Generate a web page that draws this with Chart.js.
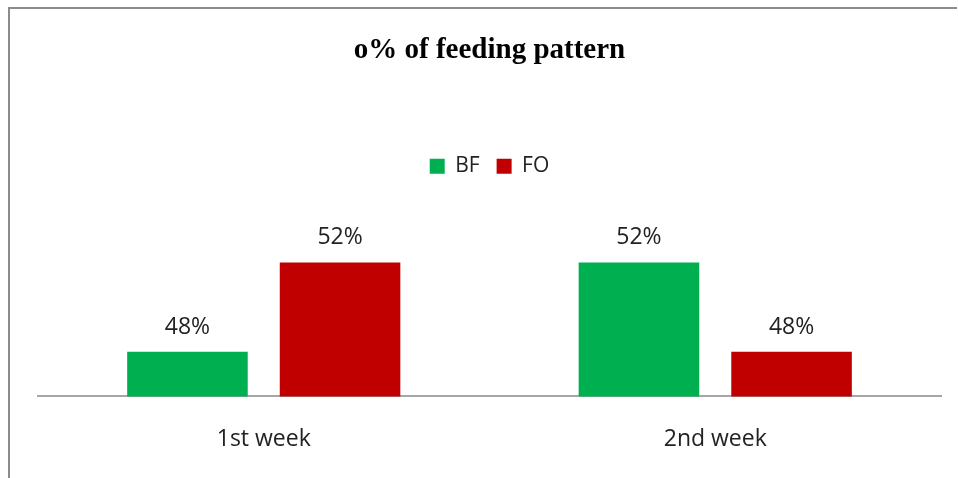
<!DOCTYPE html>
<html>
<head>
<meta charset="utf-8">
<script src="https://cdn.jsdelivr.net/npm/chart.js@4.4.0/dist/chart.umd.min.js"></script>
<style>
  html, body { margin: 0; padding: 0; background: #fff; }
  #frame {
    position: absolute; left: 8px; top: 7px; width: 949px; height: 471px;
    border-left: 2px solid #8c8c8c; border-top: 2px solid #8c8c8c;
    box-sizing: border-box;
  }
  #wrap { position: absolute; left: 0; top: 0; width: 958px; height: 478px; }
</style>
</head>
<body>
<div id="frame"></div>
<div id="wrap"><canvas id="feedingChart"></canvas></div>
<script>
  const weeks = ["1st week", "2nd week"];
  const bfValues = [48, 52];
  const foValues = [52, 48];

  // draws "48%" style labels above each bar
  const valueLabels = {
    id: "valueLabels",
    afterDatasetsDraw(chart) {
      const ctx = chart.ctx;
      ctx.save();
      ctx.font = "23px 'Open Sans', sans-serif";
      ctx.fillStyle = "#222";
      ctx.textAlign = "center";
      ctx.textBaseline = "alphabetic";
      chart.data.datasets.forEach((ds, i) => {
        chart.getDatasetMeta(i).data.forEach((bar, j) => {
          ctx.fillText(ds.data[j] + "%", bar.x, bar.y - 18);
        });
      });
      ctx.restore();
    },
  };

  // extra room between legend and bars
  const legendGap = {
    id: "legendGap",
    beforeInit(chart) {
      const fit = chart.legend.fit;
      chart.legend.fit = function () {
        fit.bind(chart.legend)();
        this.height += 31;
      };
    },
  };

  new Chart(document.getElementById("feedingChart"), {
    type: "bar",
    data: {
      labels: weeks,
      datasets: [
        { label: "BF", data: bfValues, backgroundColor: "#00b050" },
        { label: "FO", data: foValues, backgroundColor: "#c00000" },
      ],
    },
    options: {
      responsive: true,
      maintainAspectRatio: false,
      animation: false,
      categoryPercentage: 0.676,
      barPercentage: 0.79,
      layout: { padding: { left: 38, right: 17, top: 33, bottom: 4 } },
      plugins: {
        title: {
          display: true,
          text: "o% of feeding pattern",
          color: "#000",
          font: { family: "'Liberation Serif', serif", size: 29, weight: "bold" },
          padding: { top: 0, bottom: 71 },
        },
        legend: {
          display: true,
          position: "top",
          labels: {
            color: "#222",
            boxWidth: 15,
            boxHeight: 15,
            padding: 17,
            font: { family: "'Open Sans', sans-serif", size: 21 },
          },
        },
        tooltip: { enabled: false },
      },
      scales: {
        x: {
          grid: { display: false },
          border: { display: true, color: "#a6a6a6", width: 2 },
          ticks: {
            color: "#222",
            padding: 21,
            font: { family: "'Open Sans', sans-serif", size: 23 },
          },
        },
        y: {
          display: false,
          min: 46,
          max: 54,
        },
      },
    },
    plugins: [valueLabels, legendGap],
  });
</script>
</body>
</html>
